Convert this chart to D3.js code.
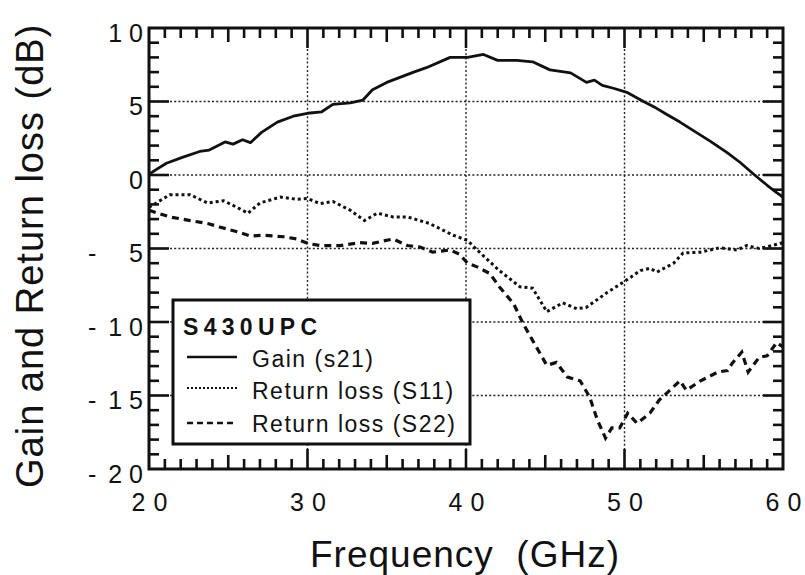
<!DOCTYPE html>
<html>
<head>
<meta charset="utf-8">
<script src="https://cdn.jsdelivr.net/npm/d3@7"></script>
<style>
  html, body { margin: 0; padding: 0; background: #fff; }
  svg { display: block; }
  text { font-family: "Liberation Sans", Arial, Helvetica, sans-serif; fill: #111; }
</style>
</head>
<body>
<svg id="chart" width="805" height="575"></svg>
<script>
// ---------------- data ----------------
const xTickValues = [20, 30, 40, 50, 60];
const yTickValues = [10, 5, 0, -5, -10, -15, -20];
const xGridValues = [30, 40, 50];
const yGridValues = [5, 0, -5, -10, -15];

const gainFreq = [20, 20.5, 21.1, 22.1, 23.2, 23.8, 24.8, 25.3, 25.9, 26.4, 27.1, 28.1, 29.1, 30, 30.9, 31.6, 32.7, 33.5, 34.1, 35.0, 36.7, 37.5, 39.0, 40.1, 41.1, 42.0, 43.2, 44.2, 45.3, 46.6, 47.6, 48.1, 48.6, 49.3, 50.2, 51.2, 52.0, 52.7, 53.5, 54.3, 55.4, 56.5, 57.3, 58.1, 59.0, 59.6, 60];
const gain     = [0.05, 0.4, 0.8, 1.2, 1.6, 1.7, 2.25, 2.1, 2.4, 2.2, 2.9, 3.6, 4.0, 4.2, 4.3, 4.8, 4.9, 5.1, 5.8, 6.3, 7.0, 7.3, 8.0, 8.0, 8.2, 7.8, 7.8, 7.7, 7.15, 6.95, 6.3, 6.45, 6.1, 5.9, 5.6, 5.0, 4.55, 4.1, 3.6, 3.05, 2.3, 1.5, 0.85, 0.1, -0.7, -1.2, -1.5];

const s11Freq = [20, 21.3, 22.6, 23.7, 24.7, 25.55, 26.25, 27.0, 28.3, 29.3, 30.0, 30.8, 31.6, 32.7, 33.6, 34.4, 35.4, 36.3, 37.7, 39.2, 40.1, 40.7, 42.1, 43.4, 44.2, 45.1, 46.1, 47.0, 47.6, 48.9, 50.2, 51.0, 51.6, 52.05, 53.1, 53.7, 54.8, 56.0, 57.1, 57.7, 58.5, 59.3, 60];
const s11     = [-2.2, -1.35, -1.35, -1.9, -1.75, -2.2, -2.6, -1.9, -1.5, -1.65, -1.6, -1.95, -1.8, -2.4, -3.1, -2.6, -2.85, -2.85, -3.3, -4.1, -4.45, -5.1, -6.5, -7.6, -7.7, -9.3, -8.7, -9.1, -9.0, -8.0, -7.1, -6.5, -6.35, -6.6, -6.0, -5.3, -5.25, -4.95, -5.1, -4.8, -5.0, -4.8, -4.6];

const s22Freq = [20, 21.3, 22.6, 23.7, 24.5, 25.7, 26.4, 27.2, 28.5, 29.3, 30.0, 30.8, 32.05, 33.3, 34.1, 35.4, 36.3, 37.1, 37.9, 39.0, 39.6, 40.1, 40.7, 41.5, 42.1, 43.0, 43.6, 44.2, 45.1, 45.7, 46.4, 47.2, 47.8, 48.3, 48.6, 48.8, 49.2, 49.7, 50.2, 50.8, 51.6, 52.2, 52.7, 53.5, 53.9, 54.8, 55.9, 56.5, 56.8, 57.4, 57.8, 58.5, 59.0, 59.6, 60];
const s22     = [-2.4, -2.85, -3.1, -3.3, -3.55, -3.9, -4.15, -4.1, -4.2, -4.35, -4.65, -4.8, -4.8, -4.6, -4.65, -4.35, -4.8, -4.9, -5.25, -5.1, -5.4, -6.0, -6.25, -6.7, -7.6, -8.75, -10.1, -11.25, -12.95, -12.75, -13.75, -14.0, -15.1, -16.7, -17.4, -17.9, -17.2, -17.2, -16.2, -16.9, -16.2, -15.3, -14.8, -14.0, -14.65, -14.0, -13.4, -13.3, -12.8, -12.05, -13.4, -12.4, -12.3, -11.4, -11.7];

const legendTitle = "S430UPC";
const seriesNames = ["Gain (s21)", "Return loss (S11)", "Return loss (S22)"];
const xTitle = "Frequency  (GHz)";
const yTitle = "Gain and Return loss (dB)";

// ---------------- layout ----------------
const svg = d3.select("#chart");
const x = d3.scaleLinear().domain([20, 60]).range([149, 783]);
const y = d3.scaleLinear().domain([-20, 10]).range([469, 28]);
const [X0, X1] = x.range();
const [Y0, Y1] = y.range(); // Y0 bottom, Y1 top
const FONT = "'Liberation Sans', Arial, Helvetica, sans-serif";

// split a label into spaced characters (no trailing spacing)
function spaced(sel, gap) {
  sel.each(function () {
    const t = d3.select(this);
    const s = t.text();
    t.text(null);
    Array.from(s).forEach((ch, i) => {
      t.append("tspan").attr("dx", i === 0 ? 0 : gap).text(ch);
    });
  });
}

// gridlines
const grid = svg.append("g").attr("stroke", "#222").attr("stroke-width", 1.4).attr("stroke-dasharray", "2,2.2");
grid.selectAll("line.gx").data(xGridValues).join("line")
  .attr("x1", d => x(d)).attr("x2", d => x(d)).attr("y1", Y1).attr("y2", Y0);
grid.selectAll("line.gy").data(yGridValues).join("line")
  .attr("y1", d => y(d)).attr("y2", d => y(d)).attr("x1", X0).attr("x2", X1);

// ticks (inward, both sides)
const xMinor = d3.range(21, 60, 1);
const yMinor = d3.range(-19, 10, 1);
const xLen = d => (d % 10 === 0 ? 20 : d % 5 === 0 ? 14 : 10);
const yLen = d => (d % 5 === 0 ? 20 : 10);
const ticks = svg.append("g").attr("stroke", "#111").attr("stroke-width", 2.6);
ticks.selectAll("line.tb").data(xMinor).join("line")
  .attr("x1", d => x(d)).attr("x2", d => x(d)).attr("y1", Y0).attr("y2", d => Y0 - xLen(d));
ticks.selectAll("line.tt").data(xMinor).join("line")
  .attr("x1", d => x(d)).attr("x2", d => x(d)).attr("y1", Y1).attr("y2", d => Y1 + xLen(d));
ticks.selectAll("line.tl").data(yMinor).join("line")
  .attr("y1", d => y(d)).attr("y2", d => y(d)).attr("x1", X0).attr("x2", d => X0 + yLen(d));
ticks.selectAll("line.tr").data(yMinor).join("line")
  .attr("y1", d => y(d)).attr("y2", d => y(d)).attr("x1", X1).attr("x2", d => X1 - yLen(d));

// data lines
const line = d3.line().x(d => x(d[0])).y(d => y(d[1])).curve(d3.curveLinear);
const zip = (a, b) => a.map((v, i) => [v, b[i]]);
svg.append("clipPath").attr("id", "plotclip").append("rect")
  .attr("x", X0).attr("y", Y1).attr("width", X1 - X0).attr("height", Y0 - Y1);

const plot = svg.append("g").attr("clip-path", "url(#plotclip)");
plot.append("path").datum(zip(gainFreq, gain)).attr("d", line)
  .attr("fill", "none").attr("stroke", "#111").attr("stroke-width", 2.8).attr("stroke-linejoin", "round");
plot.append("path").datum(zip(s11Freq, s11)).attr("d", line)
  .attr("fill", "none").attr("stroke", "#111").attr("stroke-width", 3).attr("stroke-dasharray", "3,3");
plot.append("path").datum(zip(s22Freq, s22)).attr("d", line)
  .attr("fill", "none").attr("stroke", "#111").attr("stroke-width", 3.2).attr("stroke-dasharray", "7,5");

// frame
svg.append("rect").attr("x", X0).attr("y", Y1).attr("width", X1 - X0).attr("height", Y0 - Y1)
  .attr("fill", "none").attr("stroke", "#111").attr("stroke-width", 3);

// x axis labels
const xAxis = d3.axisBottom(x).tickValues(xTickValues).tickSize(0).tickFormat(d => String(d));
const gx = svg.append("g").attr("transform", `translate(0,${Y0})`).call(xAxis);
gx.select(".domain").remove();
gx.selectAll("text").attr("y", 42).attr("dy", 0)
  .style("font-size", "25px").style("font-family", FONT).attr("fill", "#111")
  .call(spaced, 8);

// y axis labels
const yAxis = d3.axisLeft(y).tickValues(yTickValues).tickSize(0).tickFormat(d => String(Math.abs(d)));
const gy = svg.append("g").attr("transform", `translate(${X0},0)`).call(yAxis);
gy.select(".domain").remove();
gy.selectAll("text").attr("x", -6).attr("dy", 13)
  .style("font-size", "25px").style("font-family", FONT).attr("fill", "#111")
  .call(spaced, 7);
gy.selectAll(".tick").filter(d => d < 0).append("text")
  .attr("x", 88 - X0).attr("dy", 13).attr("text-anchor", "start")
  .style("font-size", "25px").style("font-family", FONT)
  .attr("fill", "#111").text("-");

// axis titles
svg.append("text").attr("x", 310).attr("y", 567)
  .style("font-size", "37px").style("letter-spacing", "1px").style("white-space", "pre")
  .text(xTitle);
svg.append("text").attr("transform", "translate(43,488) rotate(-90)")
  .style("font-size", "38px").style("letter-spacing", "1px")
  .text(yTitle);

// legend
const lg = svg.append("g");
lg.append("rect").attr("x", 173).attr("y", 300).attr("width", 297).attr("height", 144)
  .attr("fill", "#fff").attr("stroke", "#111").attr("stroke-width", 3);
lg.append("text").attr("x", 183).attr("y", 335)
  .style("font-size", "23px").style("font-weight", "bold").style("letter-spacing", "5.3px")
  .text(legendTitle);
const legendRows = [
  { name: seriesNames[0], dash: null, w: 2.5, ly: 357, ty: 367 },
  { name: seriesNames[1], dash: "2,2", w: 2.2, ly: 388, ty: 399 },
  { name: seriesNames[2], dash: "6,4", w: 2.6, ly: 423, ty: 432 }
];
legendRows.forEach(r => {
  lg.append("line").attr("x1", 187).attr("x2", 237).attr("y1", r.ly).attr("y2", r.ly)
    .attr("stroke", "#111").attr("stroke-width", r.w).attr("stroke-dasharray", r.dash);
  lg.append("text").attr("x", 252).attr("y", r.ty)
    .style("font-size", "23px").style("letter-spacing", "1.5px")
    .text(r.name);
});
</script>
</body>
</html>
